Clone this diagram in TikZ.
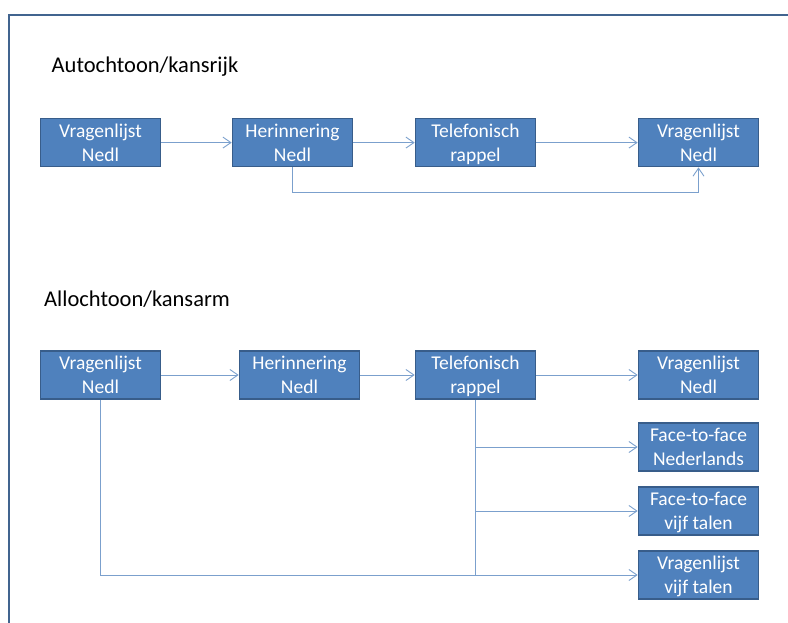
\documentclass[tikz,border=0pt]{standalone}
\usepackage{fontspec}
\setmainfont{Carlito}
\usetikzlibrary{arrows.meta}
\definecolor{boxfill}{HTML}{4F81BD}
\definecolor{boxline}{HTML}{385D8A}
\definecolor{conn}{HTML}{7BA0CD}
\definecolor{frame}{HTML}{41648F}
\newcommand\bs{\rule[-3.6pt]{0pt}{20.6pt}}
\begin{document}
\begin{tikzpicture}[x=1pt,y=-1pt,
  stepbox/.style={rectangle, draw=boxline, line width=1.6pt, fill=boxfill,
    minimum width=120pt, minimum height=48pt, inner sep=0pt, align=center,
    text=white, font=\fontsize{19.5}{24}\selectfont},
  conn/.style={draw=conn, line width=0.9pt},
  arr/.style={conn, -{Straight Barb[length=8pt,width=11pt,line width=0.9pt]}},
  title/.style={anchor=base west, inner sep=0pt, font=\fontsize{22.5}{27}\selectfont, text=black}]
\useasboundingbox (0,0) rectangle (788,623);
\draw[frame, line width=2pt] (9,630) -- (9,15) -- (795,15);
\node[title] (t1) at (51.5,72.7) {Autochtoon/kansrijk};
\node[title] (t2) at (44,306) {Allochtoon/kansarm};
% top row
\node[stepbox] (A1) at (100.5,142.6) {\bs Vragenlijst\\\bs Nedl};
\node[stepbox] (A2) at (292.5,142.6) {\bs Herinnering\\\bs Nedl};
\node[stepbox] (A3) at (475.5,142.6) {\bs Telefonisch\\\bs rappel};
\node[stepbox] (A4) at (698.5,142.6) {\bs Vragenlijst\\\bs Nedl};
\draw[arr] (A1) -- (A2);
\draw[arr] (A2) -- (A3);
\draw[arr] (A3) -- (A4);
\coordinate (ac) at (0,192);
\draw[arr] (A2.south) |- (ac -| A4.south) -- (A4.south);
% bottom row
\node[stepbox] (B1) at (100.5,375) {\bs Vragenlijst\\\bs Nedl};
\node[stepbox] (B2) at (299.5,375) {\bs Herinnering\\\bs Nedl};
\node[stepbox] (B3) at (475.5,375) {\bs Telefonisch\\\bs rappel};
\node[stepbox] (B4) at (698.5,375) {\bs Vragenlijst\\\bs Nedl};
\node[stepbox] (B5) at (698.5,447) {\bs Face-to-face\\\bs Nederlands};
\node[stepbox] (B6) at (698.5,511) {\bs Face-to-face\\\bs vijf talen};
\node[stepbox] (B7) at (698.5,575) {\bs Vragenlijst\\\bs vijf talen};
\draw[arr] (B1) -- (B2);
\draw[arr] (B2) -- (B3);
\draw[arr] (B3) -- (B4);
\draw[arr] (B1.south) |- (B7.west);
\draw[conn] (B3.south) -- (B3.south |- B7.west);
\draw[arr] (B3.south |- B5.west) -- (B5.west);
\draw[arr] (B3.south |- B6.west) -- (B6.west);
\end{tikzpicture}
\end{document}
